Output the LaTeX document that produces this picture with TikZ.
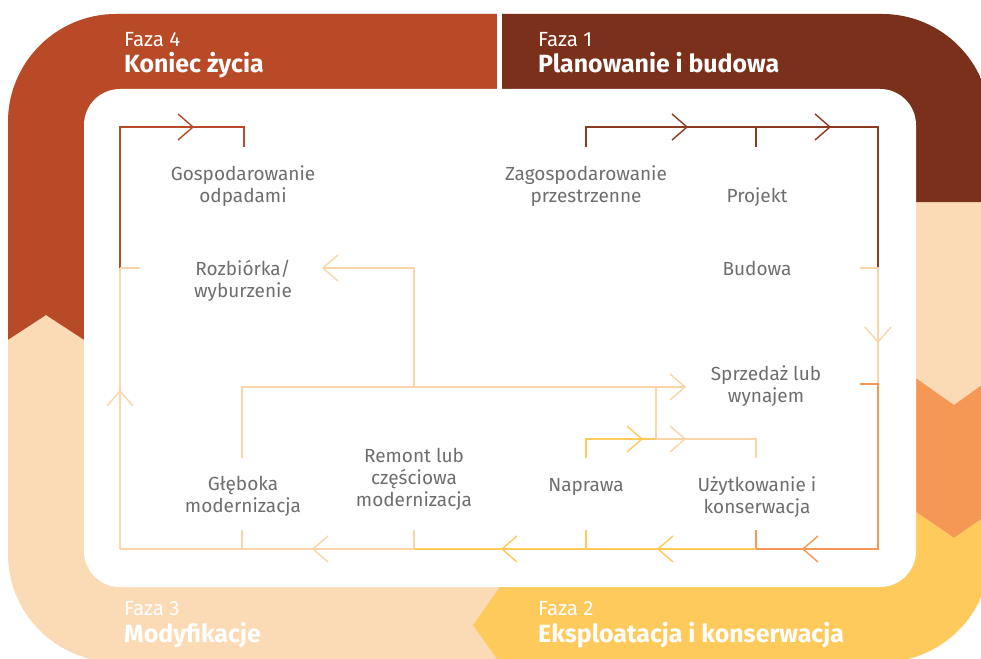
\documentclass[tikz,border=0pt]{standalone}
\usepackage{fontspec}
\setmainfont{Fira Sans}
\definecolor{cRed}{HTML}{B84A27}
\definecolor{cBrown}{HTML}{7A301A}
\definecolor{cPeach}{HTML}{FBDBB5}
\definecolor{cOrange}{HTML}{F59755}
\definecolor{cYellow}{HTML}{FECA5C}
\definecolor{cText}{HTML}{6D6E70}
\definecolor{lPeach}{HTML}{FAD5A8}
\definecolor{lBrown}{HTML}{8A3B22}
\newcommand{\chR}[3]{\draw[ln,#1] (#2-15,#3-13) -- (#2,#3) -- (#2-15,#3+13);}
\newcommand{\chL}[3]{\draw[ln,#1] (#2+15,#3-13) -- (#2,#3) -- (#2+15,#3+13);}
\newcommand{\chU}[3]{\draw[ln,#1] (#2-13,#3+15) -- (#2,#3) -- (#2+13,#3+15);}
\newcommand{\chD}[3]{\draw[ln,#1] (#2-13,#3-15) -- (#2,#3) -- (#2+13,#3-15);}
\begin{document}
\begin{tikzpicture}[x=1pt,y=-1pt,
  lbl/.style={text=cText, align=center, font=\fontsize{19}{21.7}\selectfont, inner sep=0pt, anchor=base},
  ph/.style={text=white, anchor=base west, inner sep=0pt, font=\fontsize{20.5}{24}\selectfont},
  phb/.style={text=white, anchor=base west, inner sep=0pt, font=\fontsize{24.9}{28}\selectfont\bfseries},
  ln/.style={line width=1.4pt, line cap=butt, line join=miter}]
\fill[white] (0,0) rectangle (981,658);
\useasboundingbox (0,0) rectangle (981,658);
% ring
\begin{scope}
\clip[rounded corners=108pt] (8,14) rectangle (990,662);
\fill[cPeach] (0,0) rectangle (1000,700);
\fill[cRed] (0,0) -- (497,0) -- (497,100) -- (150,100) -- (150,150) -- (95,150) -- (95,347) -- (46,315) -- (0,345) -- cycle;
\fill[cBrown] (502,0) -- (1000,0) -- (1000,202) -- (900,202) -- (900,95) -- (502,95) -- cycle;
\fill[cOrange] (900,367) -- (954,405) -- (1000,372) -- (1000,506) -- (954,538) -- (900,501) -- cycle;
\fill[cYellow] (473,625) -- (507,577) -- (900,577) -- (900,501) -- (954,538) -- (1000,506) -- (1000,700) -- (507,700) -- (507,673) -- cycle;
\end{scope}
\fill[white] (497,0) rectangle (502,95);
\fill[white, rounded corners=36pt] (84,89) rectangle (916,587);
% phase titles
\node[ph] (f4) at (124,47) {Faza 4};
\node[phb] (t4) at (124,73) {Koniec życia};
\node[ph] (f1) at (538,47) {Faza 1};
\node[phb] (t1) at (538,73) {Planowanie i budowa};
\node[ph] (f3) at (124,615) {Faza 3};
\node[phb] (t3) at (124,642) {Modyfikacje};
\node[ph] (f2) at (538,615) {Faza 2};
\node[phb] (t2) at (538,642) {Eksploatacja i konserwacja};
% labels (anchor = baseline of last line)
\node[lbl] (gosp) at (243,202) {Gospodarowanie\\odpadami};
\node[lbl] (rozb) at (243,297) {Rozbiórka/\\wyburzenie};
\node[lbl] (zag) at (586,202) {Zagospodarowanie\\przestrzenne};
\node[lbl] (proj) at (757,202) {Projekt};
\node[lbl] (bud) at (757,275) {Budowa};
\node[lbl] (sprz) at (766,402) {Sprzedaż lub\\wynajem};
\node[lbl] (napr) at (586,491) {Naprawa};
\node[lbl] (uzyt) at (757,513) {Użytkowanie i\\konserwacja};
\node[lbl] (gleb) at (243,512) {Głęboka\\modernizacja};
\node[lbl] (rem) at (414,506) {Remont lub\\częściowa\\modernizacja};
% coordinates
\coordinate (gT) at (244,147);
\coordinate (gC) at (244,127);
\coordinate (lTop) at (120,127);
\coordinate (lMid) at (120,268);
\coordinate (lStub) at (140,268);
\coordinate (lBot) at (120,549);
\coordinate (zT) at (586,147);
\coordinate (zC) at (586,127);
\coordinate (pT) at (756,147);
\coordinate (pC) at (756,127);
\coordinate (rTop) at (878,127);
\coordinate (rBud) at (878,268);
\coordinate (budStub) at (860,268);
\coordinate (rSpr) at (878,384);
\coordinate (sprStub) at (860,384);
\coordinate (rBot) at (878,549);
\coordinate (uB) at (756,549);
\coordinate (uBT) at (756,530);
\coordinate (nB) at (586,549);
\coordinate (nBT) at (586,530);
\coordinate (mB) at (414,549);
\coordinate (mBT) at (414,530);
\coordinate (gB) at (242,549);
\coordinate (gBT) at (242,530);
\coordinate (nT) at (586,458);
\coordinate (nC) at (586,439);
\coordinate (jC) at (656,439);
\coordinate (uC) at (756,439);
\coordinate (uT) at (756,458);
\coordinate (glT) at (242,458);
\coordinate (glC) at (242,387);
\coordinate (mC) at (414,387);
\coordinate (jTop) at (656,387);
\coordinate (sprIn) at (685,387);
\coordinate (mTop) at (414,268);
\coordinate (rozIn) at (323,268);
% connectors
\draw[ln,cRed] (lMid) -- (lTop) -- (gC) -- (gT);
\chR{cRed}{193}{127}
\draw[ln,lPeach] (lMid) -- (lStub);
\draw[ln,lPeach] (lBot) -- (lMid);
\chU{lPeach}{120}{391}
\draw[ln,lBrown] (zT) -- (zC) -- (rTop) -- (rBud);
\draw[ln,lBrown] (pC) -- (pT);
\chR{lBrown}{687}{127}
\chR{lBrown}{830}{127}
\draw[ln,lPeach] (budStub) -- (rBud) -- (rSpr);
\chD{lPeach}{878}{342}
\draw[ln,cOrange] (sprStub) -- (rSpr) -- (rBot) -- (uB) -- (uBT);
\chL{cOrange}{803}{549}
\draw[ln,cYellow] (uB) -- (mB);
\draw[ln,cYellow] (nBT) -- (nB);
\chL{cYellow}{658}{549}
\chL{cYellow}{502}{549}
\draw[ln,lPeach] (mB) -- (lBot);
\draw[ln,lPeach] (mBT) -- (mB);
\draw[ln,lPeach] (gBT) -- (gB);
\chL{lPeach}{313}{549}
\draw[ln,cYellow] (nT) -- (nC) -- (jC);
\chR{cYellow}{642}{439}
\draw[ln,lPeach] (jC) -- (uC) -- (uT);
\chR{lPeach}{685}{439}
\draw[ln,lPeach] (glT) -- (glC) -- (sprIn);
\chR{lPeach}{685}{387}
\draw[ln,lPeach] (jTop) -- (jC);
\draw[ln,lPeach] (mC) -- (mTop) -- (rozIn);
\chL{lPeach}{323}{268}
\end{tikzpicture}
\end{document}
